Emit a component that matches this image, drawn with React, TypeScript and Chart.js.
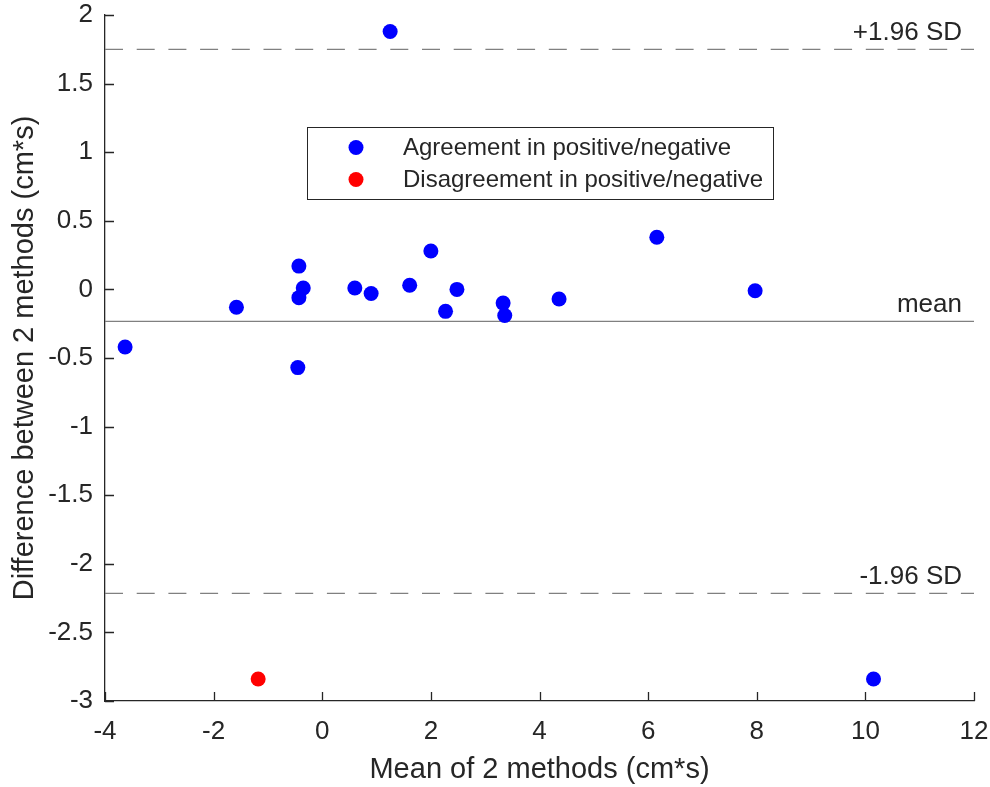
import React, { useEffect, useRef } from "react";
import { Chart, registerables } from "chart.js";

Chart.register(...registerables);

// Bland-Altman data
const agreementX = [-3.63, -1.58, -0.43, -0.43, -0.35, -0.45, 0.6, 0.9, 1.61, 2.0, 2.27, 2.48, 3.33, 3.36, 4.36, 6.16, 7.97, 1.25, 10.15];
const agreementY = [-0.42, -0.13, 0.17, -0.06, 0.01, -0.57, 0.01, -0.03, 0.03, 0.28, -0.16, 0.0, -0.1, -0.19, -0.07, 0.38, -0.01, 1.88, -2.84];
const disagreementX = [-1.18];
const disagreementY = [-2.84];

const meanDiff = -0.233;
const upperLoA = 1.75;
const lowerLoA = -2.216;

const xMin = -4;
const xMax = 12;
const xStep = 2;
const yMin = -3;
const yMax = 2;
const yStep = 0.5;

const legendLabels = ["Agreement in positive/negative", "Disagreement in positive/negative"];
const lineLabels = ["+1.96 SD", "mean", "-1.96 SD"];
const xTitle = "Mean of 2 methods (cm*s)";
const yTitle = "Difference between 2 methods (cm*s)";

const FONT = "'Liberation Sans', Arial, Helvetica, sans-serif";
const TEXT = "#262626";
const LINE_GRAY = "#808080";

const toPts = (xs: number[], ys: number[]) => xs.map((x, i) => ({ x, y: ys[i] }));
const hLine = (y: number) => [{ x: xMin, y }, { x: xMax, y }];
const fmt = (v: any) => String(Math.round(Number(v) * 100) / 100);

const overlayPlugin = {
  id: "overlay",
  afterDraw(chart: any) {
    const ctx = chart.ctx;
    const { left, right, top, bottom } = chart.chartArea;
    const xs = chart.scales.x;
    const ys = chart.scales.y;
    ctx.save();
    // inward ticks
    ctx.strokeStyle = TEXT;
    ctx.lineWidth = 1.3;
    ctx.beginPath();
    for (let v = xMin; v <= xMax + 1e-9; v += xStep) {
      const px = Math.round(xs.getPixelForValue(v)) + 0.5;
      ctx.moveTo(px, bottom);
      ctx.lineTo(px, bottom - 9);
    }
    for (let v = yMin; v <= yMax + 1e-9; v += yStep) {
      const py = Math.round(ys.getPixelForValue(v)) + 0.5;
      ctx.moveTo(left, py);
      ctx.lineTo(left + 9, py);
    }
    ctx.stroke();

    // line labels
    ctx.fillStyle = TEXT;
    ctx.font = `26px ${FONT}`;
    ctx.textAlign = "right";
    ctx.textBaseline = "alphabetic";
    const vals = [upperLoA, meanDiff, lowerLoA];
    lineLabels.forEach((t, i) => {
      ctx.fillText(t, right - 12, ys.getPixelForValue(vals[i]) - 9);
    });

    // legend box
    const lx = left + 202;
    const ly = top + 112;
    const lw = 466;
    const lh = 72;
    ctx.fillStyle = "#ffffff";
    ctx.fillRect(lx, ly, lw, lh);
    ctx.strokeStyle = TEXT;
    ctx.lineWidth = 1;
    ctx.strokeRect(lx + 0.5, ly + 0.5, lw, lh);
    const colors = ["#0000ff", "#ff0000"];
    ctx.font = `24px ${FONT}`;
    ctx.textAlign = "left";
    legendLabels.forEach((t, i) => {
      const cy = ly + 20.5 + i * 32;
      ctx.fillStyle = colors[i];
      ctx.beginPath();
      ctx.arc(lx + 49, cy, 7.5, 0, Math.PI * 2);
      ctx.fill();
      ctx.fillStyle = TEXT;
      ctx.fillText(t, lx + 96, cy + 7.5);
    });

    // axis titles
    ctx.font = `29px ${FONT}`;
    ctx.fillStyle = TEXT;
    ctx.textAlign = "center";
    ctx.textBaseline = "alphabetic";
    ctx.fillText(xTitle, (left + right) / 2, 778);
    ctx.translate(33, (top + bottom) / 2);
    ctx.rotate(-Math.PI / 2);
    ctx.fillText(yTitle, 0, 0);
    ctx.restore();
  },
};

export default function App() {
  const ref = useRef<HTMLCanvasElement>(null);
  useEffect(() => {
    if (!ref.current) return;
    const chart = new Chart(ref.current, {
      type: "scatter",
      data: {
        datasets: [
          {
            label: legendLabels[1],
            data: toPts(disagreementX, disagreementY),
            backgroundColor: "#ff0000",
            borderWidth: 0,
            pointRadius: 7.5,
          },
          {
            label: legendLabels[0],
            data: toPts(agreementX, agreementY),
            backgroundColor: "#0000ff",
            borderWidth: 0,
            pointRadius: 7.5,
          },
          {
            type: "line",
            label: "mean",
            data: hLine(meanDiff),
            borderColor: LINE_GRAY,
            borderWidth: 1.3,
            pointRadius: 0,
            showLine: true,
          },
          {
            type: "line",
            label: "+1.96 SD",
            data: hLine(upperLoA),
            borderColor: LINE_GRAY,
            borderWidth: 1.3,
            borderDash: [18, 13.7],
            pointRadius: 0,
            showLine: true,
          },
          {
            type: "line",
            label: "-1.96 SD",
            data: hLine(lowerLoA),
            borderColor: LINE_GRAY,
            borderWidth: 1.3,
            borderDash: [18, 13.7],
            pointRadius: 0,
            showLine: true,
          },
        ] as any,
      },
      options: {
        animation: false,
        responsive: false,
        devicePixelRatio: 1,
        layout: { padding: { top: 15, right: 16, left: 0, bottom: 0 } },
        plugins: { legend: { display: false }, tooltip: { enabled: false } },
        scales: {
          x: {
            type: "linear",
            min: xMin,
            max: xMax,
            ticks: { stepSize: xStep, color: TEXT, font: { size: 26, family: FONT }, padding: 15, maxRotation: 0, callback: fmt },
            grid: { display: false, drawTicks: false },
            border: { display: true, color: TEXT, width: 1.3 },
            afterFit: (s: any) => {
              s.height = 86;
              s.paddingLeft = 0;
              s.paddingRight = 0;
            },
          },
          y: {
            type: "linear",
            min: yMin,
            max: yMax,
            ticks: { stepSize: yStep, color: TEXT, font: { size: 26, family: FONT }, padding: 12, callback: fmt },
            grid: { display: false, drawTicks: false },
            border: { display: true, color: TEXT, width: 1.3 },
            afterFit: (s: any) => {
              s.width = 105;
              s.paddingTop = 0;
              s.paddingBottom = 0;
            },
          },
        },
      },
      plugins: [overlayPlugin],
    });
    return () => chart.destroy();
  }, []);
  return (
    <div style={{ position: "fixed", left: 0, top: 0, width: 990, height: 787, background: "#fff" }}>
      <canvas ref={ref} width={990} height={787} style={{ display: "block" }} />
    </div>
  );
}
